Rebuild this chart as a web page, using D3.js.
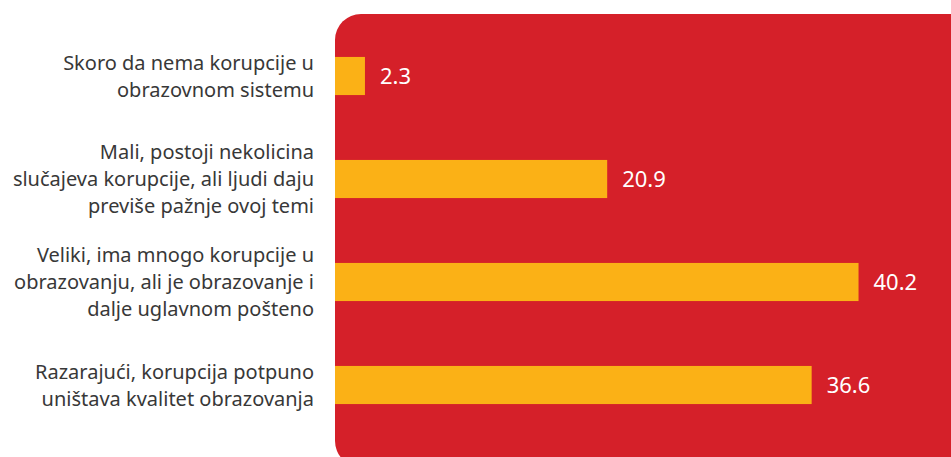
<!DOCTYPE html>
<html>
<head>
<meta charset="utf-8">
<script src="https://cdn.jsdelivr.net/npm/d3@7"></script>
<style>
	body { margin: 0; background: #ffffff; }
	svg { display: block; }
	.label { font-family: "Noto Sans", sans-serif; font-size: 20px; fill: #383838; }
	.value { font-family: "Noto Sans", sans-serif; font-size: 22px; fill: #ffffff; }
</style>
</head>
<body>
<div id="barChart"></div>
<script>

var categories = [
	["Skoro da nema korupcije u", "obrazovnom sistemu"],
	["Mali, postoji nekolicina", "slučajeva korupcije, ali ljudi daju", "previše pažnje ovoj temi"],
	["Veliki, ima mnogo korupcije u", "obrazovanju, ali je obrazovanje i", "dalje uglavnom pošteno"],
	["Razarajući, korupcija potpuno", "uništava kvalitet obrazovanja"]
]

var values = [2.3, 20.9, 40.2, 36.6]

var width = 951
var height = 457
var margin = {top: 14, right: 0, bottom: 0, left: 335}

var svg = d3.select("#barChart").append("svg")
	.attr("width", width)
	.attr("height", height)

// red panel behind the bars
svg.append("rect")
	.attr("x", margin.left)
	.attr("y", margin.top)
	.attr("width", width - margin.left + 30)
	.attr("height", height - margin.top + 10)
	.attr("rx", 26)
	.attr("ry", 26)
	.style("fill", "#d52029")

var data = values.map(function(d, i) { return {index: i, value: d, label: categories[i]} })

var x = d3.scaleLinear().domain([0, 47.3]).range([margin.left, width])
var y = d3.scaleBand()
	.domain(data.map(function(d) { return d.index }))
	.range([24.5, 436.5])
	.paddingInner(0.63)
	.paddingOuter(0.315)

svg.selectAll(".bar")
	.data(data)
	.enter().append("rect")
	.attr("class", "bar")
	.attr("x", x(0))
	.attr("y", function(d) { return y(d.index) })
	.attr("width", function(d) { return x(d.value) - x(0) })
	.attr("height", y.bandwidth())
	.style("fill", "#fbb116")

svg.selectAll(".value")
	.data(data)
	.enter().append("text")
	.attr("class", "value")
	.attr("x", function(d) { return x(d.value) + 15 })
	.attr("y", function(d) { return y(d.index) + y.bandwidth() / 2 })
	.attr("dy", "0.36em")
	.text(function(d) { return d.value.toFixed(1) })

var lineHeight = 27

svg.selectAll(".label")
	.data(data)
	.enter().append("text")
	.attr("class", "label")
	.attr("text-anchor", "end")
	.each(function(d) {
		var t = d3.select(this)
		var mid = y(d.index) + y.bandwidth() / 2
		var n = d.label.length
		d.label.forEach(function(line, j) {
			t.append("tspan")
				.attr("x", 314)
				.attr("y", mid + (j - (n - 1) / 2) * lineHeight)
				.attr("dy", "0.36em")
				.text(line)
		})
	})

</script>
</body>
</html>
